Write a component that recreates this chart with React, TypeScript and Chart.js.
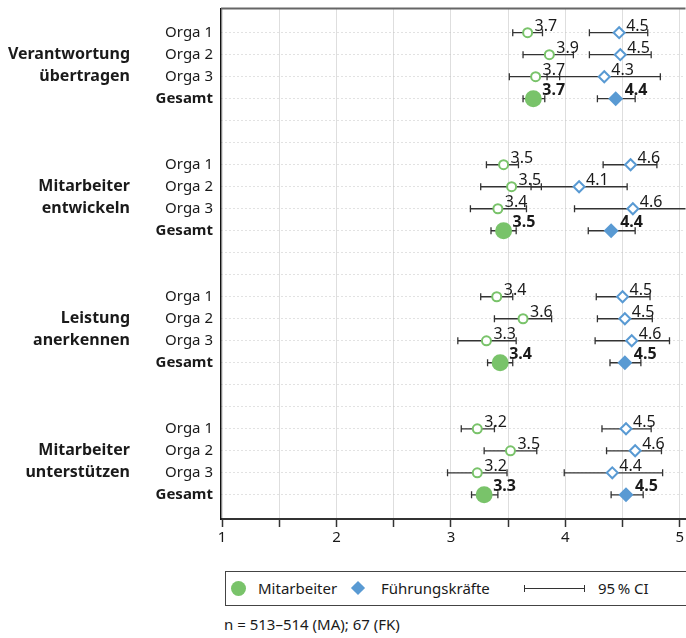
import React, { useEffect, useRef } from "react";
import { Chart, registerables } from "chart.js";

Chart.register(...registerables);

const FONT = "'Noto Sans', sans-serif";
const GREEN = "#79C36A";
const BLUE = "#599AD3";
const TEXT = "#1a1a1a";

const groupLabels = [
  ["Verantwortung", "übertragen"],
  ["Mitarbeiter", "entwickeln"],
  ["Leistung", "anerkennen"],
  ["Mitarbeiter", "unterstützen"],
];
const rowLabels = ["Orga 1", "Orga 2", "Orga 3", "Gesamt"];

// Mitarbeiter (MA): mean and 95% CI, 4 groups x (Orga 1, Orga 2, Orga 3, Gesamt)
const maMean = [3.67, 3.86, 3.74, 3.72, 3.46, 3.53, 3.41, 3.46, 3.40, 3.63, 3.31, 3.43, 3.23, 3.52, 3.23, 3.29];
const maLow = [3.54, 3.63, 3.51, 3.63, 3.31, 3.26, 3.17, 3.35, 3.26, 3.38, 3.06, 3.32, 3.09, 3.29, 2.97, 3.18];
const maHigh = [3.80, 4.07, 3.95, 3.82, 3.59, 3.79, 3.66, 3.57, 3.54, 3.88, 3.57, 3.54, 3.38, 3.75, 3.49, 3.41];

// Führungskräfte (FK)
const fkMean = [4.47, 4.48, 4.34, 4.44, 4.57, 4.12, 4.59, 4.40, 4.50, 4.52, 4.58, 4.52, 4.53, 4.61, 4.41, 4.53];
const fkLow = [4.21, 4.21, 3.84, 4.28, 4.33, 3.70, 4.08, 4.20, 4.27, 4.28, 4.26, 4.39, 4.32, 4.36, 3.99, 4.40];
const fkHigh = [4.72, 4.75, 4.83, 4.61, 4.80, 4.54, 5.09, 4.61, 4.74, 4.76, 4.91, 4.66, 4.75, 4.84, 4.85, 4.68];

const xTicks = [1, 1.5, 2, 2.5, 3, 3.5, 4, 4.5, 5];

const rowPos = (k: number) => Math.floor(k / 4) * 6 + (k % 4);
const isTotal = (k: number) => k % 4 === 3;
const idx = maMean.map((_, k) => k);

const ciPlugin = {
  id: "ciBars",
  beforeDatasetsDraw(chart: any) {
    const { ctx, chartArea, scales } = chart;
    ctx.save();
    ctx.beginPath();
    ctx.rect(chartArea.left, chartArea.top, chartArea.right - chartArea.left, chartArea.bottom - chartArea.top);
    ctx.clip();
    ctx.strokeStyle = "#333333";
    ctx.lineWidth = 1.3;
    const draw = (lo: number, hi: number, row: number) => {
      const y = scales.y.getPixelForValue(row);
      const x1 = scales.x.getPixelForValue(lo);
      const x2 = scales.x.getPixelForValue(hi);
      ctx.beginPath();
      ctx.moveTo(x1, y);
      ctx.lineTo(x2, y);
      ctx.moveTo(x1, y - 3.5);
      ctx.lineTo(x1, y + 3.5);
      ctx.moveTo(x2, y - 3.5);
      ctx.lineTo(x2, y + 3.5);
      ctx.stroke();
    };
    idx.forEach((k) => {
      draw(maLow[k], maHigh[k], rowPos(k));
      draw(fkLow[k], fkHigh[k], rowPos(k));
    });
    ctx.restore();
  },
  afterDatasetsDraw(chart: any) {
    const { ctx, scales } = chart;
    ctx.save();
    ctx.fillStyle = TEXT;
    ctx.textAlign = "left";
    ctx.textBaseline = "alphabetic";
    const label = (v: number, k: number) => {
      const x = scales.x.getPixelForValue(v);
      const y = scales.y.getPixelForValue(rowPos(k));
      if (isTotal(k)) {
        ctx.font = `bold 16px ${FONT}`;
        ctx.fillText(v.toFixed(1), x + 9, y - 4);
      } else {
        ctx.font = `16px ${FONT}`;
        ctx.fillText(v.toFixed(1), x + 7, y - 2);
      }
    };
    idx.forEach((k) => {
      label(maMean[k], k);
      label(fkMean[k], k);
    });
    ctx.restore();
  },
  afterDraw(chart: any) {
    const { ctx, chartArea } = chart;
    ctx.save();
    ctx.strokeStyle = "#666666";
    ctx.lineWidth = 2;
    ctx.beginPath();
    ctx.moveTo(chartArea.left, chartArea.top);
    ctx.lineTo(chartArea.right, chartArea.top);
    ctx.stroke();
    ctx.restore();
  },
};

export default function App() {
  const ref = useRef<HTMLCanvasElement | null>(null);

  useEffect(() => {
    if (!ref.current) return;
    const orga = idx.filter((k) => !isTotal(k));
    const total = idx.filter((k) => isTotal(k));
    const chart = new Chart(ref.current, {
      type: "scatter",
      data: {
        datasets: [
          {
            label: "Mitarbeiter",
            data: orga.map((k) => ({ x: maMean[k], y: rowPos(k) })),
            pointStyle: "circle",
            pointRadius: 4.5,
            backgroundColor: "#ffffff",
            borderColor: GREEN,
            borderWidth: 2,
          },
          {
            label: "Führungskräfte",
            data: orga.map((k) => ({ x: fkMean[k], y: rowPos(k) })),
            pointStyle: "rectRot",
            pointRadius: 5.5,
            backgroundColor: "#ffffff",
            borderColor: BLUE,
            borderWidth: 2,
          },
          {
            label: "Mitarbeiter Gesamt",
            data: total.map((k) => ({ x: maMean[k], y: rowPos(k) })),
            pointStyle: "circle",
            pointRadius: 8.5,
            backgroundColor: GREEN,
            borderColor: GREEN,
            borderWidth: 0,
          },
          {
            label: "Führungskräfte Gesamt",
            data: total.map((k) => ({ x: fkMean[k], y: rowPos(k) })),
            pointStyle: "rectRot",
            pointRadius: 7.5,
            backgroundColor: BLUE,
            borderColor: BLUE,
            borderWidth: 0,
          },
        ],
      },
      options: {
        animation: false,
        responsive: false,
        devicePixelRatio: 1,
        layout: { padding: { top: 5, left: 0, right: 0, bottom: 0 } },
        plugins: { legend: { display: false }, tooltip: { enabled: false } },
        scales: {
          x: {
            type: "linear",
            bounds: "data",
            min: 0.99,
            max: 5.05,
            afterBuildTicks: (s: any) => {
              s.ticks = xTicks.map((v) => ({ value: v }));
            },
            afterDataLimits: (s: any) => {
              s.min = 0.99;
              s.max = 5.05;
            },
            afterFit: (s: any) => {
              s.height = 41;
              s.paddingLeft = 0;
              s.paddingRight = 0;
            },
            ticks: {
              autoSkip: false,
              maxRotation: 0,
              padding: 2,
              color: TEXT,
              font: { family: FONT, size: 15 },
              callback: (v: any) => (Number.isInteger(v) ? String(v) : ""),
            },
            grid: {
              color: "#dedede",
              lineWidth: 1,
              tickColor: "#333333",
              tickLength: 8,
              tickWidth: 1.5,
            },
            border: { display: true, color: "#333333", width: 2 },
          },
          y: {
            type: "linear",
            position: "left",
            min: -1.1,
            max: 22.1,
            reverse: true,
            weight: 0,
            afterBuildTicks: (s: any) => {
              s.ticks = Array.from({ length: 22 }, (_, i) => ({ value: i }));
            },
            afterFit: (s: any) => {
              s.width = 81;
              s.paddingTop = 0;
              s.paddingBottom = 0;
            },
            ticks: {
              autoSkip: false,
              padding: 8,
              color: TEXT,
              font: (c: any) => ({
                family: FONT,
                size: 15,
                weight: c.tick && c.tick.value % 6 === 3 ? "bold" : "normal",
              }),
              callback: (v: any) => (v % 6 < 4 ? rowLabels[v % 6] : ""),
            },
            grid: { color: "#c4c4c4", lineWidth: 1, drawTicks: false },
            border: { display: true, color: "#111111", width: 1.5, dash: [1, 3] },
          },
          y2: {
            type: "linear",
            position: "left",
            min: -1.1,
            max: 22.1,
            reverse: true,
            weight: 1,
            afterBuildTicks: (s: any) => {
              s.ticks = [1.5, 7.5, 13.5, 19.5].map((v) => ({ value: v }));
            },
            afterFit: (s: any) => {
              s.width = 140;
              s.paddingTop = 0;
              s.paddingBottom = 0;
            },
            ticks: {
              autoSkip: false,
              padding: 10,
              color: TEXT,
              font: { family: FONT, size: 16, weight: "bold", lineHeight: 1.375 },
              callback: (v: any) => groupLabels[Math.round((v - 1.5) / 6)],
            },
            grid: { display: false, drawTicks: false },
            border: { display: false },
          },
        },
      },
      plugins: [ciPlugin],
    } as any);
    return () => chart.destroy();
  }, []);

  return (
    <div
      style={{
        position: "fixed",
        left: 0,
        top: 0,
        width: 686,
        height: 638,
        overflow: "hidden",
        background: "#ffffff",
        fontFamily: FONT,
        color: TEXT,
      }}
    >
      <canvas ref={ref} width={694} height={560} style={{ position: "absolute", left: 0, top: 0 }} />
      <div
        style={{
          position: "absolute",
          left: 225,
          top: 571,
          width: 520,
          height: 35,
          border: "1px solid #444444",
          boxSizing: "border-box",
        }}
      >
        <div
          style={{
            position: "absolute",
            left: 5,
            top: 9,
            width: 15,
            height: 15,
            borderRadius: "50%",
            background: GREEN,
          }}
        />
        <span style={{ position: "absolute", left: 32, top: 6, fontSize: 15, lineHeight: "20px" }}>Mitarbeiter</span>
        <div
          style={{
            position: "absolute",
            left: 127,
            top: 11,
            width: 10,
            height: 10,
            background: BLUE,
            transform: "rotate(45deg)",
          }}
        />
        <span style={{ position: "absolute", left: 155, top: 6, fontSize: 15, lineHeight: "20px" }}>Führungskräfte</span>
        <div style={{ position: "absolute", left: 298, top: 16, width: 61, height: 1.3, background: "#333333" }} />
        <div style={{ position: "absolute", left: 298, top: 13, width: 1.3, height: 7, background: "#333333" }} />
        <div style={{ position: "absolute", left: 358, top: 13, width: 1.3, height: 7, background: "#333333" }} />
        <span style={{ position: "absolute", left: 372, top: 6, fontSize: 15, lineHeight: "20px" }}>95{"\u2009"}% CI</span>
      </div>
      <div style={{ position: "absolute", left: 224, top: 614, fontSize: 15, lineHeight: "20px" }}>
        n = 513–514 (MA); 67 (FK)
      </div>
    </div>
  );
}
